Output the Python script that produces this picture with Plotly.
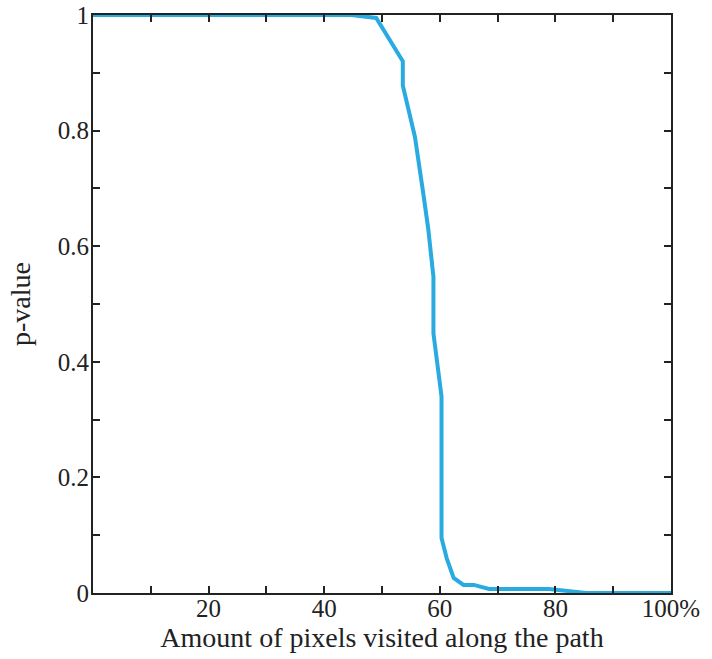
import plotly.graph_objects as go

# data
pixels_pct = [0, 44.7, 49.0, 53.6, 53.6, 55.7, 57.2, 58.0, 58.9, 58.9, 60.3, 60.3,
              61.2, 62.4, 64.1, 65.9, 68.5, 78.9, 85.3, 100]
p_value = [1.0, 1.0, 0.995, 0.92, 0.878, 0.789, 0.687, 0.63, 0.547, 0.449, 0.34, 0.095,
           0.06, 0.026, 0.014, 0.014, 0.007, 0.007, 0.0, 0.0]

x_tickvals = [0, 10, 20, 30, 40, 50, 60, 70, 80, 90, 100]
x_ticktext = ["", "", "20", "", "40", "", "60", "", "80", "", "100%"]
y_tickvals = [0, 0.1, 0.2, 0.3, 0.4, 0.5, 0.6, 0.7, 0.8, 0.9, 1.0]
y_ticktext = ["0", "", "0.2", "", "0.4", "", "0.6", "", "0.8", "", "1"]

font_family = "Liberation Serif"

fig = go.Figure()
fig.add_trace(go.Scatter(x=pixels_pct, y=p_value, mode="lines",
                         line=dict(color="#29abe2", width=4), showlegend=False))

axis_common = dict(showgrid=False, zeroline=False, showline=True, linecolor="#222",
                   linewidth=2, mirror="ticks", ticks="inside", ticklen=7,
                   tickwidth=2, tickcolor="#222", automargin=False,
                   ticklabeloverflow="allow",
                   tickfont=dict(family=font_family, size=25, color="#222"))

fig.update_xaxes(range=[0, 100], tickmode="array", tickvals=x_tickvals, ticktext=x_ticktext,
                 ticklabelstandoff=-8,
                 title=dict(text="Amount of pixels visited along the path",
                            font=dict(family=font_family, size=28, color="#222"), standoff=6),
                 **axis_common)
fig.update_yaxes(range=[0, 1], tickmode="array", tickvals=y_tickvals, ticktext=y_ticktext,
                 ticklabelstandoff=-3,
                 title=dict(text="p-value", font=dict(family=font_family, size=28, color="#222"),
                            standoff=19),
                 **axis_common)

fig.update_layout(width=712, height=659, plot_bgcolor="white", paper_bgcolor="white",
                  margin=dict(l=93, r=41, t=15, b=66))

fig.write_html("out.html", config={"displayModeBar": False},
               post_script="document.body.style.margin='0';document.body.style.overflow='hidden';")
